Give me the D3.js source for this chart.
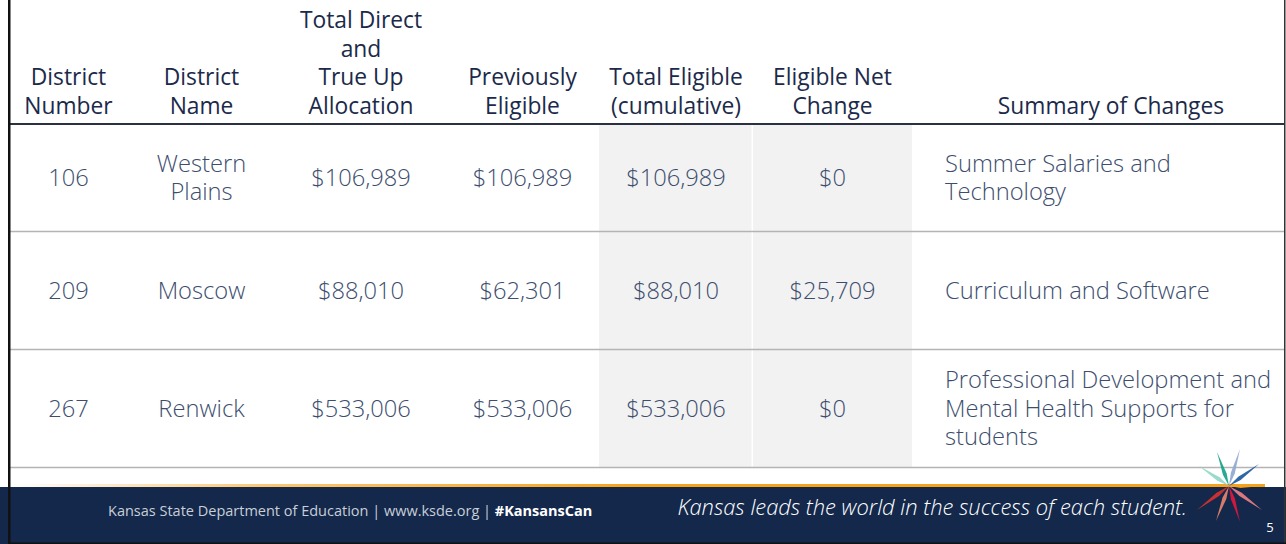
<!DOCTYPE html>
<html><head><meta charset="utf-8">
<script src="https://cdn.jsdelivr.net/npm/d3@7"></script>
<style>
html,body{margin:0;padding:0;background:#fff;}
svg{display:block;}
text{font-family:"Open Sans",sans-serif;}
</style></head>
<body>
<svg id="chart" width="1286" height="544"></svg>
<script>
// ---- data ----
const headers = [
  ["District","Number"],
  ["District","Name"],
  ["Total Direct","and","True Up","Allocation"],
  ["Previously","Eligible"],
  ["Total Eligible","(cumulative)"],
  ["Eligible Net","Change"],
  ["Summary of Changes"]
];
const districtNumbers = ["106","209","267"];
const districtNames = [["Western","Plains"],["Moscow"],["Renwick"]];
const totalAllocation = [106989, 88010, 533006];
const previouslyEligible = [106989, 62301, 533006];
const totalEligible = [106989, 88010, 533006];
const netChange = [0, 25709, 0];
const summaries = [
  ["Summer Salaries and","Technology"],
  ["Curriculum and Software"],
  ["Professional Development and","Mental Health Supports for","students"]
];
const footerLeft = "Kansas State Department of Education | www.ksde.org | ";
const footerTag = "#KansansCan";
const tagline = "Kansas leads the world in the success of each student.";
const pageNumber = "5";

// ---- layout ----
const W = 1286, H = 544;
const colEdges = [10, 127, 276, 446, 599, 753, 912, 1284];
const headerBottom = 124;
const rowHeights = [107, 118, 118];
const lineH = 28.6;
const headColor = "#1b2a4a", bodyColor = "#3c4d6e";
const fmt = v => "$" + d3.format(",")(v);

const svg = d3.select("#chart");
const defs = svg.append("defs");

// row scale
const rowTops = [headerBottom];
rowHeights.forEach((h,i)=>rowTops.push(rowTops[i]+h));
const rowScale = d3.scaleOrdinal().domain(d3.range(3)).range(rowHeights.map((h,i)=>rowTops[i]+h/2));
const colCenter = i => (colEdges[i]+colEdges[i+1])/2;

// shaded columns
[4,5].forEach(c=>{
  svg.append("rect").attr("x",colEdges[c]).attr("y",headerBottom+1)
    .attr("width",colEdges[c+1]-colEdges[c]-(c===4?1.5:0)).attr("height",rowTops[3]-headerBottom-1)
    .attr("fill","#f2f2f2");
});

// header text
const headBase = 114;
headers.forEach((lines,c)=>{
  const x = c===6 ? 1111 : colCenter(c);
  lines.forEach((ln,k)=>{
    svg.append("text").attr("fill",headColor).attr("font-size",22.8)
      .attr("text-anchor","middle").attr("x", x)
      .attr("y", headBase - (lines.length-1-k)*lineH).text(ln);
  });
});

// lines
svg.append("line").attr("x1",colEdges[0]).attr("x2",colEdges[7]).attr("y1",headerBottom).attr("y2",headerBottom)
  .attr("stroke","#2a3242").attr("stroke-width",2);
rowTops.slice(1).forEach(y=>{
  svg.append("line").attr("x1",colEdges[0]).attr("x2",colEdges[7]).attr("y1",y+0.5).attr("y2",y+0.5)
    .attr("stroke","#b4b4b4").attr("stroke-width",1.5);
});

// body cells
function multi(x, cy, lines, anchor){
  const n = lines.length;
  lines.forEach((ln,k)=>{
    svg.append("text").attr("fill",bodyColor).attr("font-size",23.7).attr("font-weight",300)
      .attr("text-anchor",anchor)
      .attr("x",x).attr("y", cy + 8.5 + (k-(n-1)/2)*lineH).text(ln);
  });
}
d3.range(3).forEach(r=>{
  const cy = rowScale(r);
  multi(colCenter(0), cy, [districtNumbers[r]], "middle");
  multi(colCenter(1), cy, districtNames[r], "middle");
  multi(colCenter(2), cy, [fmt(totalAllocation[r])], "middle");
  multi(colCenter(3), cy, [fmt(previouslyEligible[r])], "middle");
  multi(colCenter(4), cy, [fmt(totalEligible[r])], "middle");
  multi(colCenter(5), cy, [fmt(netChange[r])], "middle");
  multi(colEdges[6]+33, cy, summaries[r], "start");
});

// footer
const footTop = 487;
svg.append("rect").attr("x",0).attr("y",footTop).attr("width",W).attr("height",H-footTop).attr("fill","#13284b");
const og = defs.append("linearGradient").attr("id","og").attr("x1","0").attr("x2","1").attr("y1","0").attr("y2","0");
og.append("stop").attr("offset","0").attr("stop-color","#f7a21b").attr("stop-opacity",0);
og.append("stop").attr("offset","0.2").attr("stop-color","#f7a21b").attr("stop-opacity",0.6);
og.append("stop").attr("offset","0.5").attr("stop-color","#f7a21b").attr("stop-opacity",1);
og.append("stop").attr("offset","1").attr("stop-color","#f7a21b").attr("stop-opacity",1);
svg.append("rect").attr("x",10).attr("y",footTop-3).attr("width",1255).attr("height",3).attr("fill","url(#og)");

const ft = svg.append("text").attr("x",108).attr("y",516).attr("font-size",14.5).attr("fill","#c9ced8");
ft.append("tspan").text(footerLeft);
ft.append("tspan").attr("font-weight",700).attr("fill","#ffffff").text(footerTag);

svg.append("text").attr("x",1187).attr("y",515).attr("text-anchor","end").attr("font-size",21.9)
  .attr("font-style","italic").attr("font-weight",300).attr("fill","#ffffff").text(tagline);

svg.append("text").attr("x",1270).attr("y",532).attr("text-anchor","middle").attr("font-size",13)
  .attr("fill","#ffffff").text(pageNumber);

// star logo
const cx = 1229, cy = 486;
const rays = [
  {tip:[1217,452], color:"#13a38a"},
  {tip:[1240,449], color:"#8fa9cf"},
  {tip:[1259,464], color:"#1c5a9e"},
  {tip:[1199,466], color:"#8fd8c6"},
  {tip:[1262,486], color:"#f7a21b"},
  {tip:[1197,510], color:"#d8322f"},
  {tip:[1216,521], color:"#e7836c"},
  {tip:[1240,522], color:"#e2173d"},
  {tip:[1262,510], color:"#ea7f86"}
];
rays.forEach(r=>{
  const dx = r.tip[0]-cx, dy = r.tip[1]-cy;
  const len = Math.hypot(dx,dy), ux = dx/len, uy = dy/len, px = -uy, py = ux;
  const w = 2.0, m = 0.35;
  const pts = [[cx,cy],[cx+dx*m+px*w, cy+dy*m+py*w],[r.tip[0],r.tip[1]],[cx+dx*m-px*w, cy+dy*m-py*w]];
  svg.append("path").attr("d", d3.line()(pts)+"Z").attr("fill",r.color).attr("opacity",0.92);
});

// borders
svg.append("rect").attr("x",8).attr("y",0).attr("width",2.5).attr("height",H).attr("fill","#111");
svg.append("rect").attr("x",1284).attr("y",0).attr("width",1.5).attr("height",H).attr("fill","#333");
svg.append("rect").attr("x",8).attr("y",H-1.5).attr("width",W-8).attr("height",1.5).attr("fill","#111");
</script>
</body></html>
